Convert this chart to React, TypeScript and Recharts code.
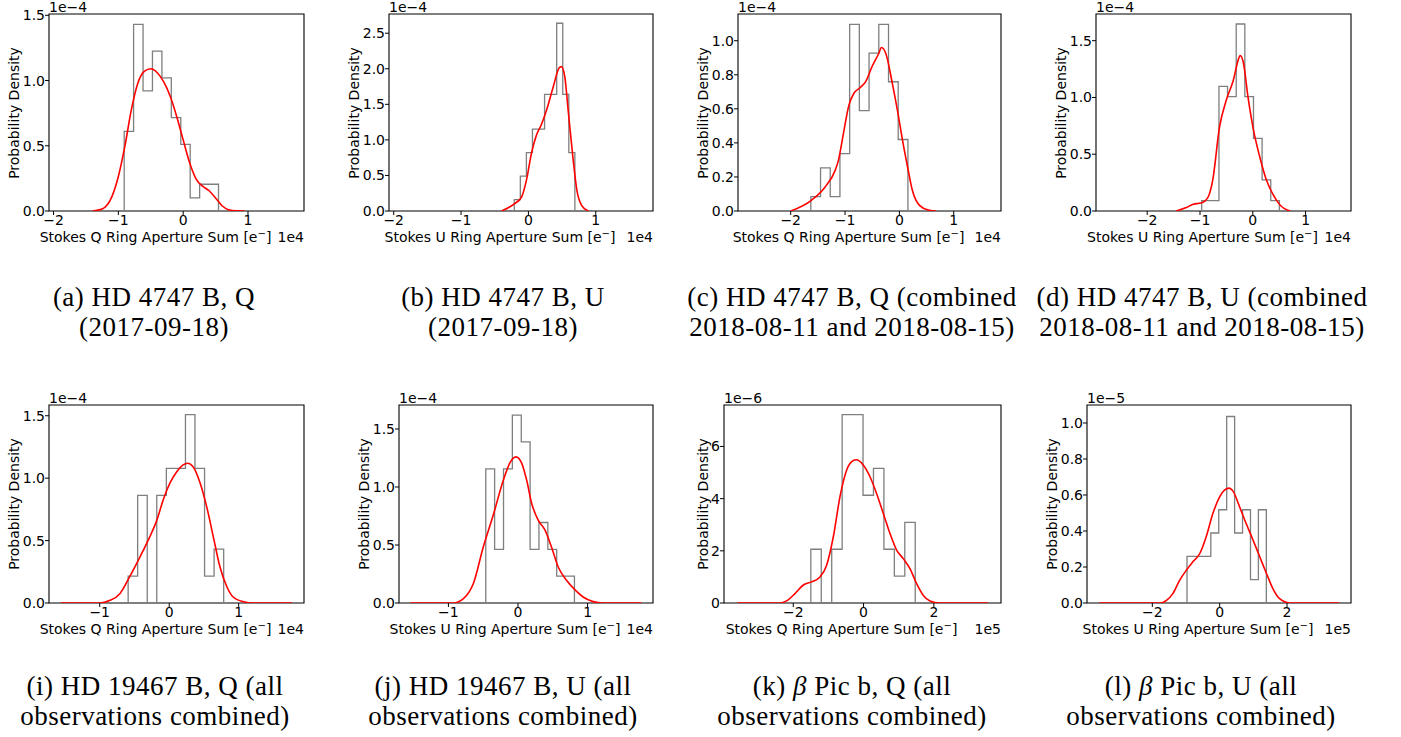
import React from 'react'
import { ComposedChart, Line, XAxis, YAxis, ReferenceArea } from 'recharts'

// x values in units of the offset shown at the right of each axis (1e4 or 1e5 e-),
// densities in units of the offset shown above each axis (1e-4, 1e-5, 1e-6)

// (a) HD 4747 B, Q (2017-09-18)
const aEdges = [-0.91, -0.765, -0.619, -0.474, -0.328, -0.183, -0.037, 0.108, 0.254, 0.399, 0.545]
const aDensity = [0.61, 1.43, 0.92, 1.225, 1.02, 0.715, 0.51, 0.1, 0.205, 0.205]
const aKdeX = [-1.4, -1.25, -1.1, -1.0, -0.9, -0.8, -0.7, -0.6, -0.5, -0.4, -0.3, -0.2, -0.1, 0, 0.1, 0.2, 0.3, 0.4, 0.5, 0.6, 0.7, 0.82, 0.95]
const aKdeY = [0, 0.015, 0.11, 0.265, 0.495, 0.775, 0.98, 1.07, 1.09, 1.06, 0.99, 0.88, 0.725, 0.545, 0.37, 0.245, 0.19, 0.155, 0.1, 0.04, 0.01, 0.001, 0]

// (b) HD 4747 B, U (2017-09-18)
const bEdges = [-0.21, -0.12, -0.03, 0.06, 0.15, 0.24, 0.33, 0.42, 0.51, 0.6, 0.69]
const bDensity = [0.16, 0.49, 0.82, 1.15, 1.15, 1.64, 1.64, 2.64, 1.64, 0.82]
const bKdeX = [-0.4, -0.21, -0.1, -0.03, 0.045, 0.12, 0.19, 0.27, 0.37, 0.455, 0.49, 0.54, 0.59, 0.66, 0.72, 0.79, 0.89]
const bKdeY = [0, 0.1, 0.2, 0.43, 0.81, 1.07, 1.21, 1.42, 1.75, 2.01, 2.03, 1.89, 1.42, 0.76, 0.29, 0.08, 0]

// (c) HD 4747 B, Q (combined 2018-08-11 and 2018-08-15)
const cEdges = [-1.63, -1.451, -1.273, -1.094, -0.915, -0.737, -0.558, -0.379, -0.2, -0.022, 0.157]
const cDensity = [0.084, 0.253, 0.084, 0.337, 1.096, 0.59, 0.927, 1.096, 0.759, 0.42]
const cKdeX = [-2.0, -1.62, -1.37, -1.18, -1.12, -1.03, -0.93, -0.84, -0.72, -0.62, -0.5, -0.38, -0.33, -0.25, -0.13, -0.035, 0.058, 0.15, 0.24, 0.37, 0.55, 0.68]
const cKdeY = [0, 0.063, 0.14, 0.24, 0.3, 0.455, 0.62, 0.69, 0.725, 0.76, 0.85, 0.925, 0.96, 0.925, 0.75, 0.59, 0.415, 0.26, 0.12, 0.033, 0.004, 0]

// (d) HD 4747 B, U (combined 2018-08-11 and 2018-08-15)
const dEdges = [-0.968, -0.805, -0.641, -0.478, -0.314, -0.151, 0.013, 0.176, 0.34, 0.503]
const dDensity = [0.092, 0.092, 1.098, 1.007, 1.647, 1.007, 0.64, 0.275, 0.092]
const dKdeX = [-1.45, -1.26, -1.13, -0.98, -0.85, -0.76, -0.63, -0.5, -0.37, -0.27, -0.24, -0.18, -0.09, 0.006, 0.13, 0.26, 0.39, 0.52, 0.71]
const dKdeY = [0, 0.03, 0.06, 0.07, 0.12, 0.27, 0.74, 0.98, 1.15, 1.34, 1.37, 1.31, 1.0, 0.73, 0.48, 0.27, 0.14, 0.05, 0]

// (i) HD 19467 B, Q
const iEdges = [-0.591, -0.454, -0.316, -0.179, -0.041, 0.096, 0.234, 0.371, 0.509, 0.646, 0.784]
const iDensity = [0.216, 0.862, 0, 0.862, 1.078, 1.078, 1.509, 1.078, 0.216, 0.431]
const iKdeX = [-1.56, -1.0, -0.86, -0.71, -0.57, -0.42, -0.28, -0.18, -0.087, 0.01, 0.106, 0.2, 0.264, 0.346, 0.44, 0.54, 0.635, 0.73, 0.83, 0.92, 1.07, 1.21, 1.77]
const iKdeY = [0, 0, 0.02, 0.075, 0.21, 0.37, 0.53, 0.66, 0.825, 0.96, 1.05, 1.106, 1.12, 1.09, 0.97, 0.77, 0.53, 0.29, 0.13, 0.048, 0.01, 0, 0]

// (j) HD 19467 B, U
const jEdges = [-0.463, -0.336, -0.208, -0.081, 0.047, 0.174, 0.301, 0.429, 0.556, 0.684, 0.811]
const jDensity = [1.157, 0.463, 1.157, 1.62, 1.389, 0.463, 0.694, 0.463, 0.231, 0.231]
const jKdeX = [-1.545, -0.93, -0.78, -0.64, -0.5, -0.35, -0.21, -0.115, -0.03, 0.05, 0.124, 0.196, 0.29, 0.387, 0.48, 0.578, 0.697, 0.816, 0.936, 1.08, 1.22, 1.775]
const jKdeY = [0, 0, 0.04, 0.17, 0.48, 0.77, 1.06, 1.21, 1.26, 1.21, 1.06, 0.86, 0.715, 0.63, 0.485, 0.31, 0.196, 0.115, 0.052, 0.012, 0, 0]

// (k) beta Pic b, Q
const kEdges = [-1.5, -1.203, -0.906, -0.609, -0.312, -0.015, 0.282, 0.579, 0.876, 1.173, 1.47]
const kDensity = [2.06, 0, 2.06, 7.22, 7.22, 4.13, 5.16, 2.06, 1.03, 3.09]
const kKdeX = [-3.59, -2.38, -2.19, -1.95, -1.72, -1.48, -1.24, -1.05, -0.86, -0.67, -0.48, -0.29, -0.2, -0.01, 0.18, 0.37, 0.56, 0.75, 0.94, 1.13, 1.32, 1.51, 1.7, 1.89, 2.17, 3.55]
const kKdeY = [0, 0, 0.08, 0.36, 0.68, 0.81, 1.0, 1.45, 2.54, 4.08, 5.1, 5.46, 5.49, 5.29, 4.85, 4.2, 3.44, 2.67, 2.03, 1.7, 1.32, 0.74, 0.29, 0.08, 0, 0]

// (l) beta Pic b, U
const lEdges = [-0.97, -0.734, -0.499, -0.263, -0.028, 0.208, 0.444, 0.679, 0.915, 1.15, 1.386]
const lDensity = [0.259, 0.259, 0.259, 0.389, 0.518, 1.036, 0.389, 0.518, 0.13, 0.518]
const lKdeX = [-3.58, -1.78, -1.58, -1.39, -1.19, -0.99, -0.79, -0.59, -0.4, -0.2, 0, 0.15, 0.28, 0.4, 0.59, 0.79, 0.99, 1.19, 1.39, 1.58, 1.78, 2.08, 3.54]
const lKdeY = [0, 0, 0.015, 0.052, 0.126, 0.182, 0.23, 0.275, 0.368, 0.498, 0.59, 0.628, 0.638, 0.62, 0.535, 0.44, 0.35, 0.257, 0.164, 0.08, 0.024, 0, 0]

// tick labels
const xTicksWide = [-2, -1, 0, 1]
const xTicksNarrow = [-1, 0, 1]
const xTicksBeta = [-2, 0, 2]
const yTicksHalf = [0, 0.5, 1.0, 1.5]
const yTicksHalf25 = [0, 0.5, 1.0, 1.5, 2.0, 2.5]
const yTicksFifth = [0, 0.2, 0.4, 0.6, 0.8, 1.0]
const yTicksBetaQ = [0, 2, 4, 6]

const SANS = 'DejaVu Sans'
const SERIF = 'Liberation Serif'

const panels = [
  { edges: aEdges, density: aDensity, kx: aKdeX, ky: aKdeY, xDomain: [-2.07, 1.864], yMax: 1.51, xTicks: xTicksWide, yTicks: yTicksHalf, yDec: 1, yExp: '1e−4', xExp: '1e4', stokes: 'Q', box: { left: 49, top: 14, w: 255, h: 197 }, ylab: 35.5, cap: ['(a) HD 4747 B, Q', '(2017-09-18)'], capX: 154, capY: 297 },
  { edges: bEdges, density: bDensity, kx: bKdeX, ky: bKdeY, xDomain: [-2.07, 1.85], yMax: 2.77, xTicks: xTicksWide, yTicks: yTicksHalf25, yDec: 1, yExp: '1e−4', xExp: '1e4', stokes: 'U', box: { left: 389, top: 14, w: 264, h: 197 }, ylab: 35.5, cap: ['(b) HD 4747 B, U', '(2017-09-18)'], capX: 503, capY: 297 },
  { edges: cEdges, density: cDensity, kx: cKdeX, ky: cKdeY, xDomain: [-2.97, 1.87], yMax: 1.157, xTicks: xTicksWide, yTicks: yTicksFifth, yDec: 1, yExp: '1e−4', xExp: '1e4', stokes: 'Q', box: { left: 738, top: 14, w: 263, h: 197 }, ylab: 35.5, cap: ['(c) HD 4747 B, Q (combined', '2018-08-11 and 2018-08-15)'], capX: 852, capY: 297 },
  { edges: dEdges, density: dDensity, kx: dKdeX, ky: dKdeY, xDomain: [-2.97, 1.86], yMax: 1.735, xTicks: xTicksWide, yTicks: yTicksHalf, yDec: 1, yExp: '1e−4', xExp: '1e4', stokes: 'U', box: { left: 1096, top: 14, w: 255, h: 197 }, ylab: 35.5, cap: ['(d) HD 4747 B, U (combined', '2018-08-11 and 2018-08-15)'], capX: 1202, capY: 297 },
  { edges: iEdges, density: iDensity, kx: iKdeX, ky: iKdeY, xDomain: [-1.73, 1.94], yMax: 1.586, xTicks: xTicksNarrow, yTicks: yTicksHalf, yDec: 1, yExp: '1e−4', xExp: '1e4', stokes: 'Q', box: { left: 49, top: 405, w: 255, h: 198 }, ylab: 35.5, cap: ['(i) HD 19467 B, Q (all', 'observations combined)'], capX: 155, capY: 686 },
  { edges: jEdges, density: jDensity, kx: jKdeX, ky: jKdeY, xDomain: [-1.71, 1.94], yMax: 1.707, xTicks: xTicksNarrow, yTicks: yTicksHalf, yDec: 1, yExp: '1e−4', xExp: '1e4', stokes: 'U', box: { left: 399, top: 405, w: 254, h: 198 }, ylab: 35.5, cap: ['(j) HD 19467 B, U (all', 'observations combined)'], capX: 503, capY: 686 },
  { edges: kEdges, density: kDensity, kx: kKdeX, ky: kKdeY, xDomain: [-3.97, 3.91], yMax: 7.59, xTicks: xTicksBeta, yTicks: yTicksBetaQ, yDec: 0, yExp: '1e−6', xExp: '1e5', stokes: 'Q', box: { left: 724, top: 405, w: 277, h: 198 }, ylab: 21.5, cap: ['(k) β Pic b, Q (all', 'observations combined)'], capX: 852, capY: 686 },
  { edges: lEdges, density: lDensity, kx: lKdeX, ky: lKdeY, xDomain: [-3.94, 3.9], yMax: 1.1, xTicks: xTicksBeta, yTicks: yTicksFifth, yDec: 1, yExp: '1e−5', xExp: '1e5', stokes: 'U', box: { left: 1087, top: 405, w: 264, h: 198 }, ylab: 35.5, cap: ['(l) β Pic b, U (all', 'observations combined)'], capX: 1201, capY: 686 },
]

// outline of a step histogram, open at the bottom like histtype='step'
function stepPoints(edges: number[], heights: number[]) {
  const pts = [{ x: edges[0], y: 0 }]
  heights.forEach((h, i) => {
    pts.push({ x: edges[i], y: h })
    pts.push({ x: edges[i + 1], y: h })
  })
  pts.push({ x: edges[edges.length - 1], y: 0 })
  return pts
}

const fmtX = (v: number) => (v < 0 ? '−' + Math.abs(v) : String(v))

function Caption({ text, x, y }: { text: string; x: number; y: number }) {
  const parts = text.split('β')
  return (
    <div
      style={{
        position: 'absolute',
        left: x,
        top: y - 15,
        transform: 'translateX(-50%)',
        fontFamily: SERIF,
        fontSize: 27,
        lineHeight: '30px',
        letterSpacing: 0.5,
        whiteSpace: 'nowrap',
        color: '#000',
      }}
    >
      {parts.length > 1 ? (
        <>
          {parts[0]}
          <i>β</i>
          {parts[1]}
        </>
      ) : (
        text
      )}
    </div>
  )
}

function Panel({ p }: { p: any }) {
  const { box } = p
  const L = 50
  const T = 22
  const R = 10
  const B = 34
  const hist = stepPoints(p.edges, p.density)
  const kde = p.kx.map((x: number, i: number) => ({ x, y: p.ky[i] }))
  const tickStyle = { fill: '#000', fontSize: 14, fontFamily: SANS }
  const labelStyle: React.CSSProperties = { position: 'absolute', fontFamily: SANS, fontSize: 14, lineHeight: '14px', whiteSpace: 'nowrap', color: '#000' }
  const labelTop = box.top + box.h + 19

  return (
    <>
      <div style={{ position: 'absolute', left: box.left - L, top: box.top - T }}>
        <ComposedChart width={box.w + L + R} height={box.h + T + B} margin={{ top: T, right: R, bottom: B - 30, left: L - 40 }}>
          <XAxis
            type="number"
            dataKey="x"
            domain={p.xDomain}
            ticks={p.xTicks}
            allowDataOverflow
            interval={0}
            height={30}
            tickSize={4}
            tickMargin={0}
            axisLine={false}
            tickLine={{ stroke: '#000' }}
            tick={tickStyle}
            tickFormatter={fmtX}
          />
          <YAxis
            type="number"
            domain={[0, p.yMax]}
            ticks={p.yTicks}
            allowDataOverflow
            interval={0}
            width={40}
            tickSize={4}
            tickMargin={0}
            axisLine={false}
            tickLine={{ stroke: '#000' }}
            tick={tickStyle}
            tickFormatter={(v: number) => v.toFixed(p.yDec)}
          />
          <Line data={hist} dataKey="y" type="linear" stroke="#7f7f7f" strokeWidth={1.3} dot={false} isAnimationActive={false} />
          <Line data={kde} dataKey="y" type="monotone" stroke="#ff0000" strokeWidth={1.6} dot={false} isAnimationActive={false} />
          <ReferenceArea x1={p.xDomain[0]} x2={p.xDomain[1]} y1={0} y2={p.yMax} fill="none" stroke="#000" strokeWidth={1.1} ifOverflow="visible" />
        </ComposedChart>
      </div>
      <div style={{ ...labelStyle, left: box.left, top: box.top - 14 }}>{p.yExp}</div>
      <div style={{ ...labelStyle, left: box.left + box.w, top: labelTop, transform: 'translateX(-100%)' }}>{p.xExp}</div>
      <div style={{ ...labelStyle, left: box.left + box.w / 2 - 21, top: labelTop, transform: 'translateX(-50%)' }}>
        {'Stokes ' + p.stokes + ' Ring Aperture Sum [e'}
        <span style={{ fontSize: 10, position: 'relative', top: -5 }}>−</span>
        {']'}
      </div>
      <div
        style={{
          ...labelStyle,
          left: box.left - p.ylab,
          top: box.top + box.h / 2,
          transform: 'translate(-50%, -50%) rotate(-90deg)',
        }}
      >
        Probability Density
      </div>
      <Caption text={p.cap[0]} x={p.capX} y={p.capY} />
      <Caption text={p.cap[1]} x={p.capX} y={p.capY + 30} />
    </>
  )
}

export default function App() {
  return (
    <div style={{ position: 'absolute', left: 0, top: 0, width: 1401, height: 737, background: '#fff', overflow: 'hidden' }}>
      {panels.map((p, i) => (
        <Panel key={i} p={p} />
      ))}
    </div>
  )
}
